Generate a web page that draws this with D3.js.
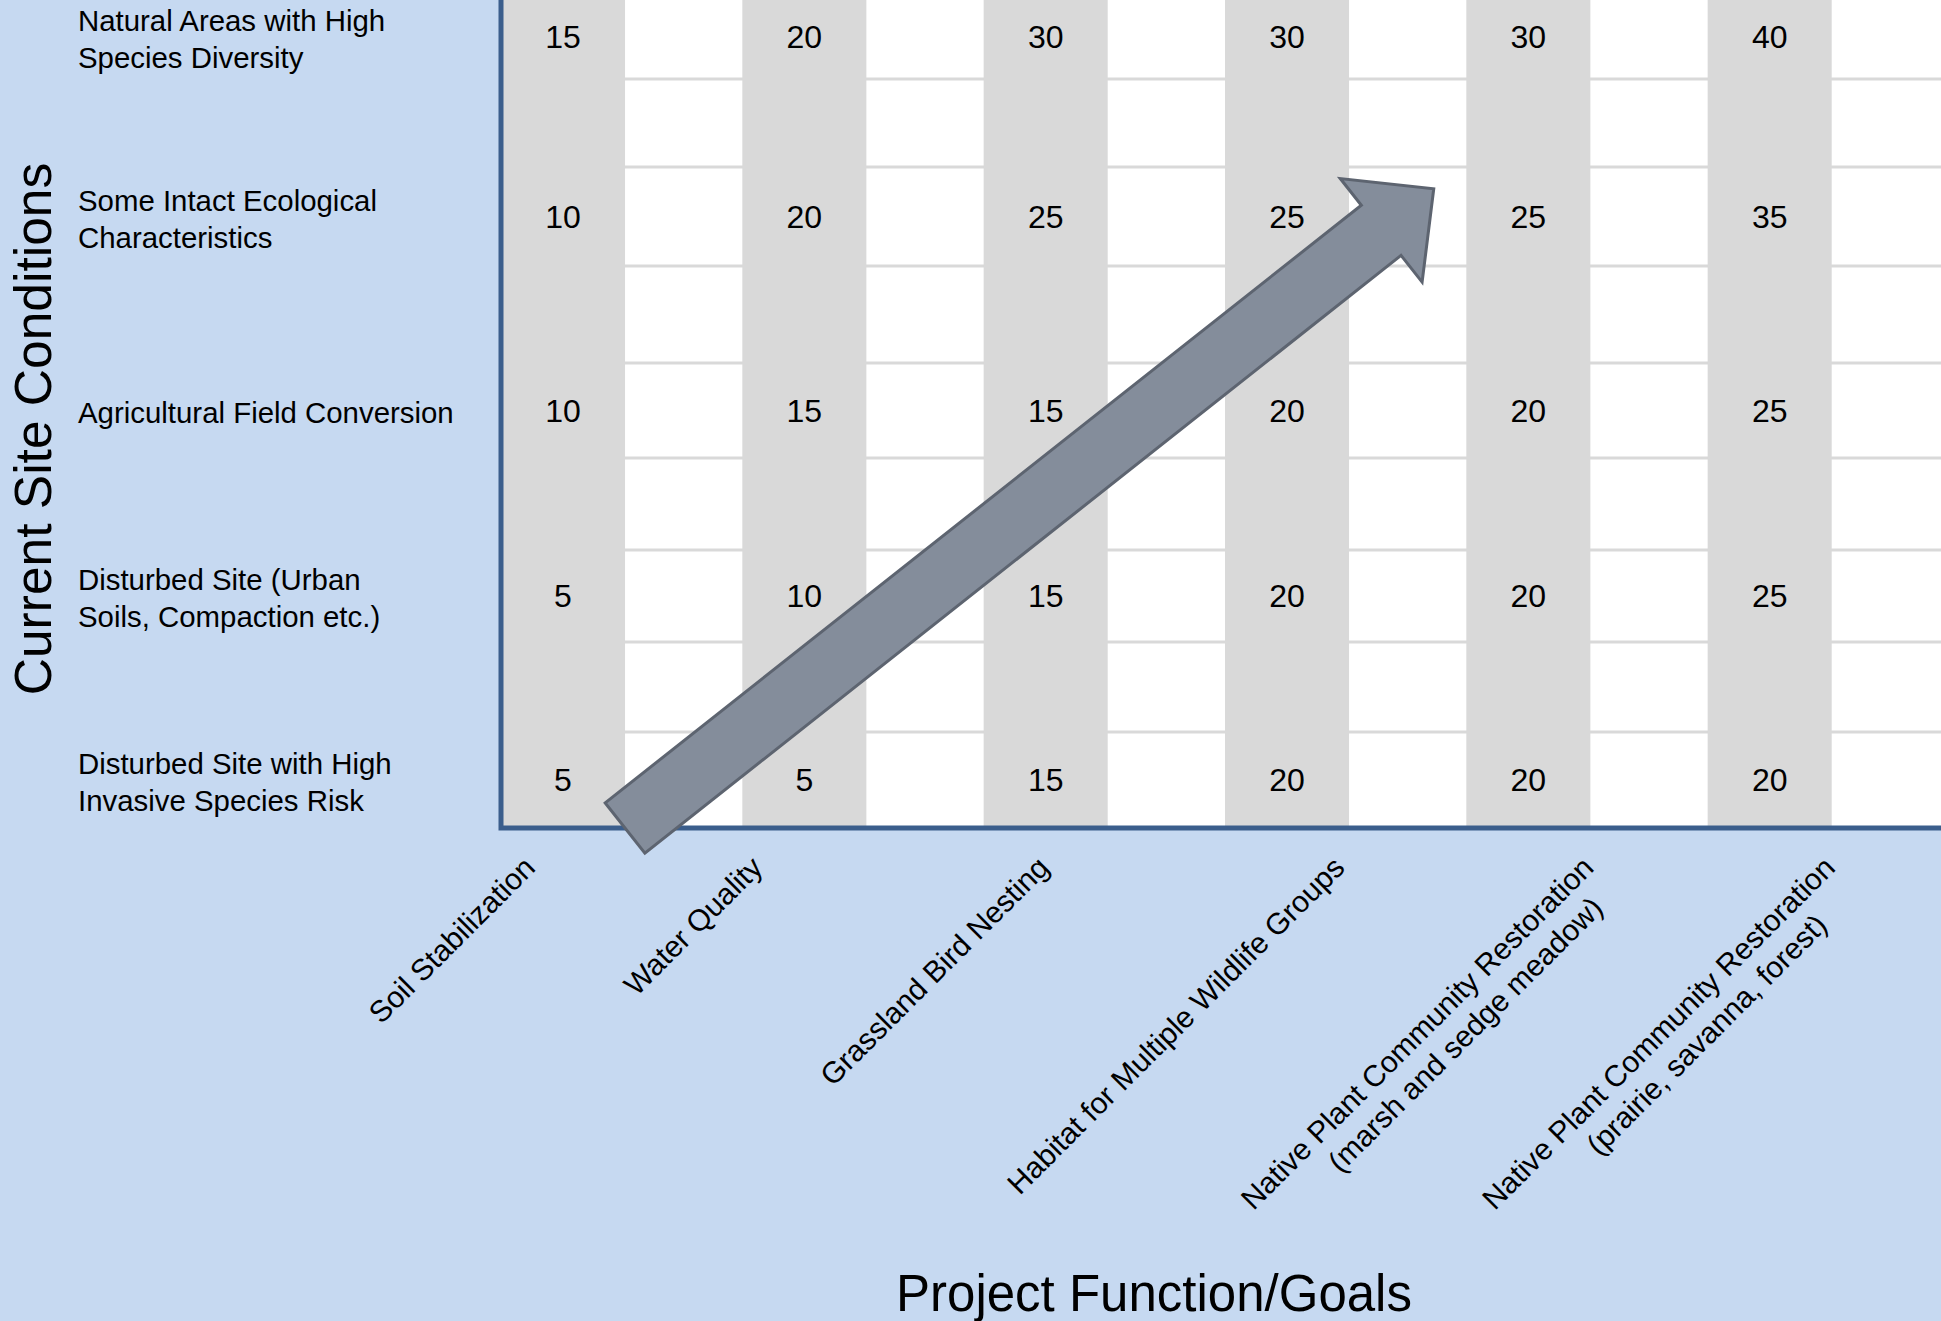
<!DOCTYPE html>
<html>
<head>
<meta charset="utf-8">
<script src="https://cdn.jsdelivr.net/npm/d3@7"></script>
<style>
  html, body { margin: 0; padding: 0; background: #c6d9f1; }
  svg { display: block; font-family: "Liberation Sans", Arial, sans-serif; }
</style>
</head>
<body>
<div id="chart"></div>
<script>
// project goals (x axis), one array of text lines each
const goals = [
  ["Soil Stabilization"],
  ["Water Quality"],
  ["Grassland Bird Nesting"],
  ["Habitat for Multiple Wildlife Groups"],
  ["Native Plant Community Restoration", "(marsh and sedge meadow)"],
  ["Native Plant Community Restoration", "(prairie, savanna, forest)"]
];

// current site conditions (rows, top to bottom)
const conditions = [
  ["Natural Areas with High", "Species Diversity"],
  ["Some Intact Ecological", "Characteristics"],
  ["Agricultural Field Conversion"],
  ["Disturbed Site (Urban", "Soils, Compaction etc.)"],
  ["Disturbed Site with High", "Invasive Species Risk"]
];

// values per row, one per goal
const naturalAreas      = [15, 20, 30, 30, 30, 40];
const someIntact        = [10, 20, 25, 25, 25, 35];
const agricultural      = [10, 15, 15, 20, 20, 25];
const disturbedUrban    = [5, 10, 15, 20, 20, 25];
const disturbedInvasive = [5, 5, 15, 20, 20, 20];

const rowValues = [naturalAreas, someIntact, agricultural, disturbedUrban, disturbedInvasive];

function drawChart() {
  let width = 1941, height = 1321;
  let plotLeft = 501, plotRight = 1949;

  let svg = d3.select("#chart").append("svg")
    .attr("width", width).attr("height", height);

  svg.append("rect")
    .attr("width", width).attr("height", height)
    .attr("fill", "#c6d9f1");

  let x = d3.scaleBand()
    .domain(d3.range(goals.length))
    .range([plotLeft, plotRight]);
  let bw = x.bandwidth();
  let grayW = bw * 0.514;

  // 9 slots: 5 rows with a spacer band between each
  let y = d3.scaleLinear()
    .domain(d3.range(10))
    .range([828, 732, 642, 550, 458, 363, 266, 167, 79, -5]);
  let rowSlot = i => 8.5 - 2 * i;

  // plot area
  svg.append("rect")
    .attr("x", plotLeft).attr("y", y(9))
    .attr("width", plotRight - plotLeft).attr("height", y(0) - y(9))
    .attr("fill", "#ffffff");

  // horizontal gridlines
  svg.append("g").selectAll("line")
    .data(d3.range(1, 9))
    .join("line")
    .attr("x1", plotLeft).attr("x2", plotRight)
    .attr("y1", d => y(d)).attr("y2", d => y(d))
    .attr("stroke", "#d9d9d9").attr("stroke-width", 3);

  // gray goal columns
  svg.append("g").selectAll("rect")
    .data(goals)
    .join("rect")
    .attr("x", (d, i) => x(i))
    .attr("y", y(9))
    .attr("width", grayW)
    .attr("height", y(0) - y(9))
    .attr("fill", "#d9d9d9");

  // values
  let cells = [];
  rowValues.forEach((row, r) => row.forEach((v, c) => cells.push({r, c, v})));
  svg.append("g").selectAll("text")
    .data(cells)
    .join("text")
    .attr("x", d => x(d.c) + grayW / 2)
    .attr("y", d => y(rowSlot(d.r)))
    .attr("text-anchor", "middle")
    .attr("dominant-baseline", "central")
    .attr("font-size", 32)
    .attr("fill", "#000")
    .text(d => d.v);

  // plot border
  svg.append("rect")
    .attr("x", plotLeft).attr("y", y(9))
    .attr("width", plotRight - plotLeft).attr("height", y(0) - y(9))
    .attr("fill", "none")
    .attr("stroke", "#3b5e8c").attr("stroke-width", 5);

  // row labels
  let lineH = 37;
  conditions.forEach((lines, i) => {
    let t = svg.append("text")
      .attr("font-size", 29.4)
      .attr("fill", "#000");
    lines.forEach((line, j) => {
      t.append("tspan")
        .attr("x", 78)
        .attr("y", y(rowSlot(i)) + 2 + (j - (lines.length - 1) / 2) * lineH)
        .attr("dominant-baseline", "central")
        .text(line);
    });
  });

  // goal labels, rotated 45 degrees; second line sits a little further along
  let tickTop = 862;
  goals.forEach((lines, i) => {
    let g = svg.append("g");
    let t = g.append("text")
      .attr("font-size", 30)
      .attr("text-anchor", "middle")
      .attr("fill", "#000");
    lines.forEach((line, j) => {
      t.append("tspan")
        .attr("x", j * 33)
        .attr("y", j * 35)
        .attr("dominant-baseline", "central")
        .text(line);
    });
    let firstLen = t.select("tspan").node().getComputedTextLength();
    let cx = x(i) + bw / 2 - 170;
    let cy = tickTop + 0.3536 * firstLen;
    g.attr("transform", `translate(${cx},${cy}) rotate(-45)`);
  });

  // axis titles
  svg.append("text")
    .attr("transform", `translate(51,429) rotate(-90)`)
    .attr("text-anchor", "middle")
    .attr("font-size", 51.5)
    .attr("fill", "#000")
    .text("Current Site Conditions");

  svg.append("text")
    .attr("x", 1154).attr("y", 1311)
    .attr("text-anchor", "middle")
    .attr("font-size", 51)
    .attr("fill", "#000")
    .text("Project Function/Goals");

  // block arrow from low value corner towards high value corner
  let start = [x(0) + grayW, y(0)];
  let tip = [x(3) + bw * 0.865, y(6.78)];
  let dx = tip[0] - start[0], dy = tip[1] - start[1];
  let len = Math.sqrt(dx * dx + dy * dy);
  let u = [dx / len, dy / len];
  let n = [-u[1], u[0]];
  let shaftHalf = 32, headHalf = 66, headLen = 67;
  let base = [tip[0] - u[0] * headLen, tip[1] - u[1] * headLen];
  let pt = (p, k) => [p[0] + n[0] * k, p[1] + n[1] * k];
  let arrow = [
    pt(start, -shaftHalf),
    pt(base, -shaftHalf),
    pt(base, -headHalf),
    tip,
    pt(base, headHalf),
    pt(base, shaftHalf),
    pt(start, shaftHalf)
  ];
  svg.append("path")
    .attr("d", d3.line()(arrow) + "Z")
    .attr("fill", "#848d9b")
    .attr("stroke", "#5d6470")
    .attr("stroke-width", 3)
    .attr("stroke-linejoin", "miter");
}

drawChart();
</script>
</body>
</html>
